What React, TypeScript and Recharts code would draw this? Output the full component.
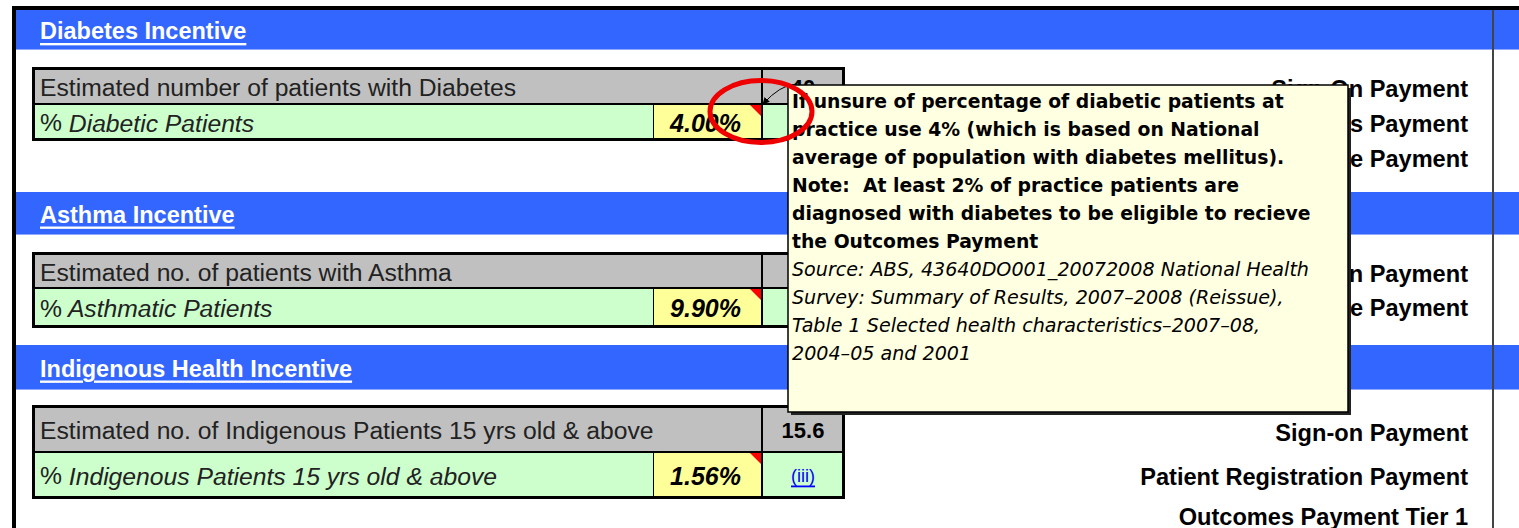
import { Surface, Layer, Rectangle } from 'recharts'

const W = 1519
const H = 528

// sheet content
const sectionTitles = ['Diabetes Incentive', 'Asthma Incentive', 'Indigenous Health Incentive']
const countLabels = [
  'Estimated number of patients with Diabetes',
  'Estimated no. of patients with Asthma',
  'Estimated no. of Indigenous Patients 15 yrs old & above',
]
const pctLabels = ['Diabetic Patients', 'Asthmatic Patients', 'Indigenous Patients 15 yrs old & above']
const pctValues = [4.0, 9.9, 1.56]
const counts = [40, 99, 15.6]
const noteRefs = ['(i)', '(ii)', '(iii)']
const paymentLabels = [
  ['Sign-On Payment', 'Outcomes Payment', 'Service Incentive Payment'],
  ['Sign-On Payment', 'Service Incentive Payment'],
  ['Sign-on Payment', 'Patient Registration Payment', 'Outcomes Payment Tier 1'],
]
const commentBold = [
  'If unsure of percentage of diabetic patients at',
  'practice use 4% (which is based on National',
  'average of population with diabetes mellitus).',
  'Note:  At least 2% of practice patients are',
  'diagnosed with diabetes to be eligible to recieve',
  'the Outcomes Payment',
]
const commentSource = [
  'Source: ABS, 43640DO001_20072008 National Health',
  'Survey: Summary of Results, 2007\u20132008 (Reissue),',
  'Table 1 Selected health characteristics\u20132007\u201308,',
  '2004\u201305 and 2001',
]

// sheet layout (pixels)
const bandTop = [10, 192, 345]
const bandH = [40, 43, 45]
const tableTop = [67, 252, 405]
const grayH = [33, 32, 43]
const greenH = [33, 36, 43]
const payRowY = [[88, 123, 158], [273, 307], [432, 476, 516]]

const TBL_L = 32
const TBL_R = 845
const COL_YEL = 654
const COL_DIV = 761
const PAY_R = 1468

const BLUE = '#3366FF'
const GRAY = '#C0C0C0'
const GREEN = '#CCFFCC'
const YELLOW = '#FFFF99'
const TIP = '#FFFFE1'

const sheetFont = '"Liberation Sans", Arial, sans-serif'
const tipFont = '"DejaVu Sans", Verdana, sans-serif'

function Section({ i }: { i: number }) {
  const top = tableTop[i]
  const gTop = top + 3
  const grTop = gTop + grayH[i] + 2
  const bottom = grTop + greenH[i] + 3
  const gMid = gTop + grayH[i] / 2
  const grMid = grTop + greenH[i] / 2
  return (
    <Layer>
      <Rectangle x={16} y={bandTop[i]} width={W - 16} height={bandH[i]} fill={BLUE} />
      <Rectangle x={16} y={bandTop[i] + bandH[i] - 1} width={W - 16} height={1} fill="#8FAAFF" />
      <text x={40} y={bandTop[i] + bandH[i] / 2 + 1} fill="#fff" fontFamily={sheetFont} fontWeight="bold"
        fontSize={23.5} dominantBaseline="central" style={{ textDecoration: 'underline' }}>
        {sectionTitles[i]}
      </text>

      <Rectangle x={TBL_L} y={top} width={TBL_R - TBL_L} height={bottom - top} fill="#000" />
      <Rectangle x={TBL_L + 3} y={gTop} width={COL_DIV - TBL_L - 3} height={grayH[i]} fill={GRAY} />
      <Rectangle x={COL_DIV + 2} y={gTop} width={TBL_R - 3 - COL_DIV - 2} height={grayH[i]} fill={GRAY} />
      <Rectangle x={TBL_L + 3} y={grTop} width={COL_YEL - 1 - TBL_L - 3} height={greenH[i]} fill={GREEN} />
      <Rectangle x={COL_YEL} y={grTop} width={COL_DIV - COL_YEL} height={greenH[i]} fill={YELLOW} />
      <Rectangle x={COL_DIV + 2} y={grTop} width={TBL_R - 3 - COL_DIV - 2} height={greenH[i]} fill={GREEN} />
      <path d={`M${COL_DIV - 11},${grTop} L${COL_DIV},${grTop} L${COL_DIV},${grTop + 11} Z`} fill="#FF0000" />

      <text x={40} y={gMid + 1} fill="#222" fontFamily={sheetFont} fontSize={24.7} dominantBaseline="central">
        {countLabels[i]}
      </text>
      <text x={(COL_DIV + TBL_R) / 2} y={gMid + 1} fill="#000" fontFamily={sheetFont} fontWeight="bold"
        fontSize={22} textAnchor="middle" dominantBaseline="central">
        {counts[i]}
      </text>
      <text x={40} y={grMid + 1} fill="#222" fontFamily={sheetFont} fontSize={24.7} dominantBaseline="central">
        %<tspan fontStyle="italic"> {pctLabels[i]}</tspan>
      </text>
      <text x={741} y={grMid + 1} fill="#000" fontFamily={sheetFont} fontWeight="bold" fontStyle="italic"
        fontSize={25} textAnchor="end" dominantBaseline="central">
        {pctValues[i].toFixed(2)}%
      </text>
      <text x={(COL_DIV + TBL_R) / 2} y={grMid + 1} fill="#0000FF" fontFamily={sheetFont} fontSize={18}
        textAnchor="middle" dominantBaseline="central" style={{ textDecoration: 'underline' }}>
        {noteRefs[i]}
      </text>

      {paymentLabels[i].map((p, j) => (
        <text key={p + j} x={PAY_R} y={payRowY[i][j] + 1} fill="#000" fontFamily={sheetFont} fontWeight="bold"
          fontSize={23.6} textAnchor="end" dominantBaseline="central">
          {p}
        </text>
      ))}
    </Layer>
  )
}

export default function App() {
  const tipX = 788
  const tipY = 85
  const tipW = 560
  const tipH = 327
  return (
    <div style={{ position: 'absolute', left: 0, top: 0, width: W, height: H, background: '#fff' }}>
      <Surface width={W} height={H} viewBox={{ x: 0, y: 0, width: W, height: H }}>
        <defs>
          <marker id="arrowHead" viewBox="0 0 10 10" refX="9" refY="5" markerWidth="7" markerHeight="7" orient="auto">
            <path d="M0,0 L10,5 L0,10 Z" fill="#000" />
          </marker>
        </defs>
        <Rectangle x={0} y={0} width={W} height={H} fill="#fff" />
        {sectionTitles.map((t, i) => (
          <Section key={t} i={i} />
        ))}
        {/* sheet frame */}
        <Rectangle x={12} y={6} width={W - 12} height={4} fill="#000" />
        <Rectangle x={12} y={6} width={4} height={H - 6} fill="#000" />
        <Rectangle x={1492} y={10} width={2} height={H - 10} fill="#444" />

        {/* cell comment */}
        <path d={`M${tipX + 8},${tipY - 1} Q${tipX - 8},${tipY} ${COL_DIV + 2},${tableTop[0] + 37}`}
          fill="none" stroke="#000" strokeWidth={1} markerEnd="url(#arrowHead)" />
        <Rectangle x={tipX + 3} y={tipY + 3} width={tipW} height={tipH} fill="#222" />
        <Rectangle x={tipX} y={tipY} width={tipW} height={tipH} fill={TIP} stroke="#000" strokeWidth={1.5} />
        {commentBold.map((l, k) => (
          <text key={l} x={tipX + 4} y={tipY + 16 + k * 28} fill="#000" fontFamily={tipFont} fontWeight="bold"
            fontSize={18.8} dominantBaseline="central" style={{ whiteSpace: 'pre' }}>
            {l}
          </text>
        ))}
        {commentSource.map((l, k) => (
          <text key={l} x={tipX + 4} y={tipY + 16 + (k + commentBold.length) * 28} fill="#000" fontFamily={tipFont}
            fontStyle="italic" fontSize={19.1} dominantBaseline="central">
            {l}
          </text>
        ))}

        <ellipse cx={COL_DIV} cy={111.5} rx={51} ry={31} fill="none" stroke="#EE0000" strokeWidth={5} />
      </Surface>
    </div>
  )
}
